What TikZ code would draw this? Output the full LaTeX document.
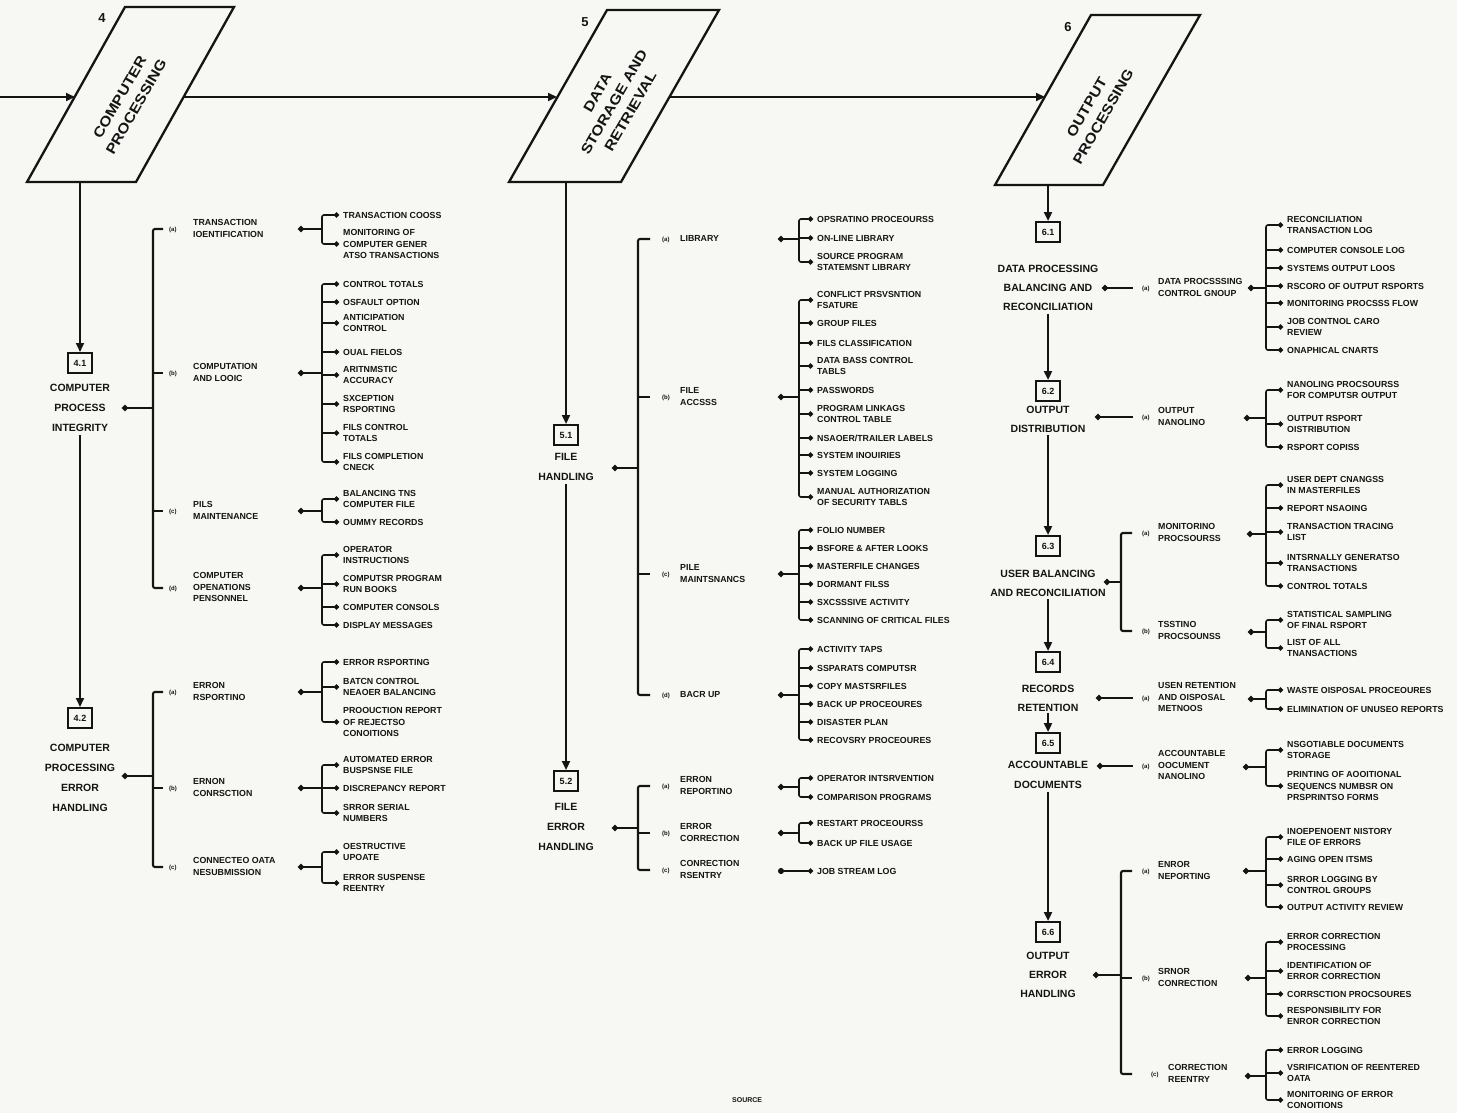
\documentclass[tikz,border=0pt]{standalone}
\usepackage{fontspec}
\setmainfont{Liberation Sans}
\usetikzlibrary{arrows.meta}
\definecolor{ink}{RGB}{20,20,20}
\definecolor{paper}{RGB}{247,247,243}
\newcommand\itmfont{\fontsize{8.8}{11.5}\selectfont\bfseries}
\newcommand\mainfnt{\fontsize{10.5}{20}\selectfont\bfseries}
\newcommand\boxfnt{\fontsize{14}{19}\selectfont\bfseries}
\newcommand\numfnt{\fontsize{9}{10}\selectfont\bfseries}
\newcommand\labtx[4]{\hspace*{#1}\makebox[#2][l]{\fontsize{6}{7}\selectfont #3}\begin{tabular}{@{}l@{}}#4\end{tabular}}
\newcommand\Itm[4]{\node[item] (#1) at (#2,#3) {#4};}
\newcommand\Tck[2]{\draw[tk,-{Circle[length=5pt]}] (#2.west -| #1) -- (#2.west);}
\newcommand\Sbr[3]{\draw[tk,rounded corners=2pt,{Circle[length=5pt]}-{Circle[length=5pt]}] (#2.west) -- (#2.west -| #1) -- (#3.west -| #1) -- (#3.west);}
\newcommand\Lbr[3]{\draw[ln,rounded corners=2pt] (#2.west) -- (#2.west -| #1) -- (#3.west -| #1) -- (#3.west);}
\newcommand\Ltk[2]{\draw[ln] (#2.west -| #1) -- (#2.west);}
\newcommand\Pdt[2]{\draw[ln,{Circle[length=6pt]}-] (#2) -- (#2 -| #1);}
\begin{document}
\begin{tikzpicture}[x=1pt,y=-1pt,
 ln/.style={draw=ink,line width=2.1pt},
 tk/.style={draw=ink,line width=1.6pt},
 arr/.style={draw=ink,line width=2.2pt,-{Triangle[length=9pt,width=8pt]}},
 item/.style={anchor=west,inner xsep=4pt,inner ysep=0pt,font=\itmfont,align=left,text=ink},
 lab/.style={anchor=west,inner sep=0pt,font=\itmfont,text=ink},
 mainn/.style={font=\mainfnt,align=center,inner sep=0pt,text=ink},
 numbox/.style={draw=ink,line width=2pt,font=\numfnt,minimum width=24pt,minimum height=20pt,inner sep=1pt,text=ink},
 boxtxt/.style={font=\boxfnt,align=center,rotate=60,xscale=1.15,transform shape,text=ink},
 numlbl/.style={font=\fontsize{13}{13}\selectfont\bfseries,text=ink},
 pgram/.style={draw=ink,line width=2.3pt}]
\fill[paper] (0,0) rectangle (1457,1113);
\useasboundingbox (0,0) rectangle (1457,1113);

% ---------- top row ----------
\draw[pgram] (125,7) -- (234,7) -- (136,182) -- (27,182) -- cycle;
\node[boxtxt] (bx4) at (128,102) {COMPUTER\\PROCESSING};
\node[numlbl] (nm4) at (102,18) {4};
\draw[pgram] (607,10) -- (719,10) -- (621,182) -- (509,182) -- cycle;
\node[boxtxt] (bx5) at (614,102) {DATA\\STORAGE AND\\RETRIEVAL};
\node[numlbl] (nm5) at (585,22) {5};
\draw[pgram] (1091,15) -- (1200,15) -- (1103,185) -- (995,185) -- cycle;
\node[boxtxt] (bx6) at (1095,112) {OUTPUT\\PROCESSING};
\node[numlbl] (nm6) at (1068,27) {6};
\coordinate (st) at (0,97);
\coordinate (p4l) at (75,97);
\coordinate (p4r) at (184,97);
\coordinate (p5l) at (557,97);
\coordinate (p5r) at (670,97);
\coordinate (p6l) at (1045,97);
\draw[arr] (st) -- (p4l);
\draw[arr] (p4r) -- (p5l);
\draw[arr] (p5r) -- (p6l);
\coordinate (p4s) at (80,182);
\coordinate (p5s) at (566,182);
\coordinate (p6s) at (1048,185);

% ---------- column 4 ----------
\coordinate (b1x) at (153,0); \coordinate (s1x) at (322,0);
\node[numbox] (n41) at (80,363) {4.1};
\node[mainn] (t41) at (80,408) {COMPUTER\\PROCESS\\INTEGRITY};
\draw[arr] (p4s) -- (n41.north);
\coordinate (m41) at (122,408);
\node[lab] (L1a) at (163,229) {\labtx{6pt}{24pt}{(a)}{TRANSACTION\\IOENTIFICATION}};
\node[lab] (L1b) at (163,373) {\labtx{6pt}{24pt}{(b)}{COMPUTATION\\AND LOOIC}};
\node[lab] (L1c) at (163,511) {\labtx{6pt}{24pt}{(c)}{PILS\\MAINTENANCE}};
\node[lab] (L1d) at (163,588) {\labtx{6pt}{24pt}{(d)}{COMPUTER\\OPENATIONS\\PENSONNEL}};
\Lbr{b1x}{L1a}{L1d} \Ltk{b1x}{L1b} \Ltk{b1x}{L1c}
\Pdt{b1x}{m41}
\coordinate (P1a) at (298,229); \coordinate (P1b) at (298,373);
\coordinate (P1c) at (298,511); \coordinate (P1d) at (298,588);
\Pdt{s1x}{P1a} \Pdt{s1x}{P1b} \Pdt{s1x}{P1c} \Pdt{s1x}{P1d}
\Itm{i1a1}{339}{215}{TRANSACTION COOSS}
\Itm{i1a2}{339}{244}{MONITORING OF\\COMPUTER GENER\\ATSO TRANSACTIONS}
\Sbr{s1x}{i1a1}{i1a2}
\Itm{i1b1}{339}{284}{CONTROL TOTALS}
\Itm{i1b2}{339}{302}{OSFAULT OPTION}
\Itm{i1b3}{339}{323}{ANTICIPATION\\CONTROL}
\Itm{i1b4}{339}{352}{OUAL FIELOS}
\Itm{i1b5}{339}{375}{ARITNMSTIC\\ACCURACY}
\Itm{i1b6}{339}{404}{SXCEPTION\\RSPORTING}
\Itm{i1b7}{339}{433}{FILS CONTROL\\TOTALS}
\Itm{i1b8}{339}{462}{FILS COMPLETION\\CNECK}
\Sbr{s1x}{i1b1}{i1b8}
\Tck{s1x}{i1b2} \Tck{s1x}{i1b3} \Tck{s1x}{i1b4} \Tck{s1x}{i1b5} \Tck{s1x}{i1b6} \Tck{s1x}{i1b7}
\Itm{i1c1}{339}{499}{BALANCING TNS\\COMPUTER FILE}
\Itm{i1c2}{339}{522}{OUMMY RECORDS}
\Sbr{s1x}{i1c1}{i1c2}
\Itm{i1d1}{339}{555}{OPERATOR\\INSTRUCTIONS}
\Itm{i1d2}{339}{584}{COMPUTSR PROGRAM\\RUN BOOKS}
\Itm{i1d3}{339}{607}{COMPUTER CONSOLS}
\Itm{i1d4}{339}{625}{DISPLAY MESSAGES}
\Sbr{s1x}{i1d1}{i1d4} \Tck{s1x}{i1d2} \Tck{s1x}{i1d3}

\node[numbox] (n42) at (80,718) {4.2};
\draw[arr,shorten <=3pt] (t41.south) -- (n42.north);
\node[mainn] (t42) at (80,778) {COMPUTER\\PROCESSING\\ERROR\\HANDLING};
\coordinate (m42) at (122,776);
\node[lab] (L2a) at (163,692) {\labtx{6pt}{24pt}{(a)}{ERRON\\RSPORTINO}};
\node[lab] (L2b) at (163,788) {\labtx{6pt}{24pt}{(b)}{ERNON\\CONRSCTION}};
\node[lab] (L2c) at (163,867) {\labtx{6pt}{24pt}{(c)}{CONNECTEO OATA\\NESUBMISSION}};
\Lbr{b1x}{L2a}{L2c} \Ltk{b1x}{L2b}
\Pdt{b1x}{m42}
\coordinate (P2a) at (298,692); \coordinate (P2b) at (298,788); \coordinate (P2c) at (298,867);
\Pdt{s1x}{P2a} \Pdt{s1x}{P2b} \Pdt{s1x}{P2c}
\Itm{i2a1}{339}{662}{ERROR RSPORTING}
\Itm{i2a2}{339}{687}{BATCN CONTROL\\NEAOER BALANCING}
\Itm{i2a3}{339}{722}{PROOUCTION REPORT\\OF REJECTSO\\CONOITIONS}
\Sbr{s1x}{i2a1}{i2a3} \Tck{s1x}{i2a2}
\Itm{i2b1}{339}{765}{AUTOMATED ERROR\\BUSPSNSE FILE}
\Itm{i2b2}{339}{788}{DISCREPANCY REPORT}
\Itm{i2b3}{339}{813}{SRROR SERIAL\\NUMBERS}
\Sbr{s1x}{i2b1}{i2b3} \Tck{s1x}{i2b2}
\Itm{i2c1}{339}{852}{OESTRUCTIVE\\UPOATE}
\Itm{i2c2}{339}{883}{ERROR SUSPENSE\\REENTRY}
\Sbr{s1x}{i2c1}{i2c2}

% ---------- column 5 ----------
\coordinate (b5x) at (638,0); \coordinate (s5x) at (799,0);
\node[numbox] (n51) at (566,435) {5.1};
\draw[arr] (p5s) -- (n51.north);
\node[mainn] (t51) at (566,467) {FILE\\HANDLING};
\coordinate (m51) at (612,468);
\node[lab] (L5a) at (650,239) {\labtx{12pt}{18pt}{(a)}{LIBRARY}};
\node[lab] (L5b) at (650,397) {\labtx{12pt}{18pt}{(b)}{FILE\\ACCSSS}};
\node[lab] (L5c) at (650,574) {\labtx{12pt}{18pt}{(c)}{PILE\\MAINTSNANCS}};
\node[lab] (L5d) at (650,695) {\labtx{12pt}{18pt}{(d)}{BACR UP}};
\Lbr{b5x}{L5a}{L5d} \Ltk{b5x}{L5b} \Ltk{b5x}{L5c}
\Pdt{b5x}{m51}
\coordinate (P5a) at (778,239); \coordinate (P5b) at (778,397);
\coordinate (P5c) at (778,574); \coordinate (P5d) at (778,695);
\Pdt{s5x}{P5a} \Pdt{s5x}{P5b} \Pdt{s5x}{P5c} \Pdt{s5x}{P5d}
\Itm{i5a1}{813}{219}{OPSRATINO PROCEOURSS}
\Itm{i5a2}{813}{238}{ON-LINE LIBRARY}
\Itm{i5a3}{813}{262}{SOURCE PROGRAM\\STATEMSNT LIBRARY}
\Sbr{s5x}{i5a1}{i5a3} \Tck{s5x}{i5a2}
\Itm{i5b1}{813}{300}{CONFLICT PRSVSNTION\\FSATURE}
\Itm{i5b2}{813}{323}{GROUP FILES}
\Itm{i5b3}{813}{343}{FILS CLASSIFICATION}
\Itm{i5b4}{813}{366}{DATA BASS CONTROL\\TABLS}
\Itm{i5b5}{813}{390}{PASSWORDS}
\Itm{i5b6}{813}{414}{PROGRAM LINKAGS\\CONTROL TABLE}
\Itm{i5b7}{813}{438}{NSAOER/TRAILER LABELS}
\Itm{i5b8}{813}{455}{SYSTEM INOUIRIES}
\Itm{i5b9}{813}{473}{SYSTEM LOGGING}
\Itm{i5b10}{813}{497}{MANUAL AUTHORIZATION\\OF SECURITY TABLS}
\Sbr{s5x}{i5b1}{i5b10}
\Tck{s5x}{i5b2} \Tck{s5x}{i5b3} \Tck{s5x}{i5b4} \Tck{s5x}{i5b5}
\Tck{s5x}{i5b6} \Tck{s5x}{i5b7} \Tck{s5x}{i5b8} \Tck{s5x}{i5b9}
\Itm{i5c1}{813}{530}{FOLIO NUMBER}
\Itm{i5c2}{813}{548}{BSFORE \& AFTER LOOKS}
\Itm{i5c3}{813}{566}{MASTERFILE CHANGES}
\Itm{i5c4}{813}{584}{DORMANT FILSS}
\Itm{i5c5}{813}{602}{SXCSSSIVE ACTIVITY}
\Itm{i5c6}{813}{620}{SCANNING OF CRITICAL FILES}
\Sbr{s5x}{i5c1}{i5c6}
\Tck{s5x}{i5c2} \Tck{s5x}{i5c3} \Tck{s5x}{i5c4} \Tck{s5x}{i5c5}
\Itm{i5d1}{813}{649}{ACTIVITY TAPS}
\Itm{i5d2}{813}{668}{SSPARATS COMPUTSR}
\Itm{i5d3}{813}{686}{COPY MASTSRFILES}
\Itm{i5d4}{813}{704}{BACK UP PROCEOURES}
\Itm{i5d5}{813}{722}{DISASTER PLAN}
\Itm{i5d6}{813}{740}{RECOVSRY PROCEOURES}
\Sbr{s5x}{i5d1}{i5d6}
\Tck{s5x}{i5d2} \Tck{s5x}{i5d3} \Tck{s5x}{i5d4} \Tck{s5x}{i5d5}

\node[numbox] (n52) at (566,781) {5.2};
\draw[arr,shorten <=3pt] (t51.south) -- (n52.north);
\node[mainn] (t52) at (566,827) {FILE\\ERROR\\HANDLING};
\coordinate (m52) at (612,828);
\node[lab] (L52a) at (650,786) {\labtx{12pt}{18pt}{(a)}{ERRON\\REPORTINO}};
\node[lab] (L52b) at (650,833) {\labtx{12pt}{18pt}{(b)}{ERROR\\CORRECTION}};
\node[lab] (L52c) at (650,870) {\labtx{12pt}{18pt}{(c)}{CONRECTION\\RSENTRY}};
\Lbr{b5x}{L52a}{L52c} \Ltk{b5x}{L52b}
\Pdt{b5x}{m52}
\coordinate (P52a) at (778,787); \coordinate (P52b) at (778,833);
\Pdt{s5x}{P52a} \Pdt{s5x}{P52b}
\Itm{i52a1}{813}{778}{OPERATOR INTSRVENTION}
\Itm{i52a2}{813}{797}{COMPARISON PROGRAMS}
\Sbr{s5x}{i52a1}{i52a2}
\Itm{i52b1}{813}{823}{RESTART PROCEOURSS}
\Itm{i52b2}{813}{843}{BACK UP FILE USAGE}
\Sbr{s5x}{i52b1}{i52b2}
\Itm{i52c1}{813}{871}{JOB STREAM LOG}
\coordinate (P52c) at (778,871);
\draw[tk,{Circle[length=6pt]}-{Circle[length=5pt]}] (P52c) -- (i52c1.west);

% ---------- column 6 ----------
\coordinate (b6x) at (1121,0); \coordinate (s6x) at (1266,0);
\node[numbox] (n61) at (1048,232) {6.1};
\draw[arr] (p6s) -- (n61.north);
\node[mainn,font=\fontsize{10.5}{19}\selectfont\bfseries] (t61) at (1048,288) {DATA PROCESSING\\BALANCING AND\\RECONCILIATION};
\coordinate (m61) at (1102,288);
\node[lab] (L61a) at (1133,288) {\labtx{9pt}{16pt}{(a)}{DATA PROCSSSING\\CONTROL GNOUP}};
\draw[ln,{Circle[length=6pt]}-] (m61) -- (L61a.west);
\coordinate (P61a) at (1248,288);
\Pdt{s6x}{P61a}
\Itm{i61a1}{1283}{225}{RECONCILIATION\\TRANSACTION LOG}
\Itm{i61a2}{1283}{250}{COMPUTER CONSOLE LOG}
\Itm{i61a3}{1283}{268}{SYSTEMS OUTPUT LOOS}
\Itm{i61a4}{1283}{286}{RSCORO OF OUTPUT RSPORTS}
\Itm{i61a5}{1283}{303}{MONITORING PROCSSS FLOW}
\Itm{i61a6}{1283}{327}{JOB CONTNOL CARO\\REVIEW}
\Itm{i61a7}{1283}{350}{ONAPHICAL CNARTS}
\Sbr{s6x}{i61a1}{i61a7}
\Tck{s6x}{i61a2} \Tck{s6x}{i61a3} \Tck{s6x}{i61a4} \Tck{s6x}{i61a5} \Tck{s6x}{i61a6}

\node[numbox] (n62) at (1048,391) {6.2};
\draw[arr,shorten <=3pt] (t61.south) -- (n62.north);
\node[mainn,font=\fontsize{10.5}{19}\selectfont\bfseries] (t62) at (1048,419) {OUTPUT\\DISTRIBUTION};
\coordinate (m62) at (1095,417);
\node[lab] (L62a) at (1133,417) {\labtx{9pt}{16pt}{(a)}{OUTPUT\\NANOLINO}};
\draw[ln,{Circle[length=6pt]}-] (m62) -- (L62a.west);
\coordinate (P62a) at (1244,418);
\Pdt{s6x}{P62a}
\Itm{i62a1}{1283}{390}{NANOLING PROCSOURSS\\FOR COMPUTSR OUTPUT}
\Itm{i62a2}{1283}{424}{OUTPUT RSPORT\\OISTRIBUTION}
\Itm{i62a3}{1283}{447}{RSPORT COPISS}
\Sbr{s6x}{i62a1}{i62a3} \Tck{s6x}{i62a2}

\node[numbox] (n63) at (1048,546) {6.3};
\draw[arr,shorten <=3pt] (t62.south) -- (n63.north);
\node[mainn,font=\fontsize{10.5}{19}\selectfont\bfseries] (t63) at (1048,583) {USER BALANCING\\AND RECONCILIATION};
\coordinate (m63) at (1104,582);
\node[lab] (L63a) at (1132,533) {\labtx{10pt}{16pt}{(a)}{MONITORINO\\PROCSOURSS}};
\node[lab] (L63b) at (1132,631) {\labtx{10pt}{16pt}{(b)}{TSSTINO\\PROCSOUNSS}};
\Lbr{b6x}{L63a}{L63b}
\Pdt{b6x}{m63}
\coordinate (P63a) at (1247,534); \coordinate (P63b) at (1248,632);
\Pdt{s6x}{P63a} \Pdt{s6x}{P63b}
\Itm{i63a1}{1283}{485}{USER DEPT CNANGSS\\IN MASTERFILES}
\Itm{i63a2}{1283}{508}{REPORT NSAOING}
\Itm{i63a3}{1283}{532}{TRANSACTION TRACING\\LIST}
\Itm{i63a4}{1283}{563}{INTSRNALLY GENERATSO\\TRANSACTIONS}
\Itm{i63a5}{1283}{586}{CONTROL TOTALS}
\Sbr{s6x}{i63a1}{i63a5} \Tck{s6x}{i63a2} \Tck{s6x}{i63a3} \Tck{s6x}{i63a4}
\Itm{i63b1}{1283}{620}{STATISTICAL SAMPLING\\OF FINAL RSPORT}
\Itm{i63b2}{1283}{648}{LIST OF ALL\\TNANSACTIONS}
\Sbr{s6x}{i63b1}{i63b2}

\node[numbox] (n64) at (1048,662) {6.4};
\draw[arr,shorten <=3pt] (t63.south) -- (n64.north);
\node[mainn,font=\fontsize{10.5}{19}\selectfont\bfseries] (t64) at (1048,698) {RECORDS\\RETENTION};
\coordinate (m64) at (1096,698);
\node[lab] (L64a) at (1133,698) {\labtx{9pt}{16pt}{(a)}{USEN RETENTION\\AND OISPOSAL\\METNOOS}};
\draw[ln,{Circle[length=6pt]}-] (m64) -- (L64a.west);
\coordinate (P64a) at (1248,699);
\Pdt{s6x}{P64a}
\Itm{i64a1}{1283}{690}{WASTE OISPOSAL PROCEOURES}
\Itm{i64a2}{1283}{709}{ELIMINATION OF UNUSEO REPORTS}
\Sbr{s6x}{i64a1}{i64a2}

\node[numbox] (n65) at (1048,743) {6.5};
\draw[arr,shorten <=2pt] (t64.south) -- (n65.north);
\node[mainn,font=\fontsize{10.5}{20}\selectfont\bfseries] (t65) at (1048,775) {ACCOUNTABLE\\DOCUMENTS};
\coordinate (m65) at (1097,766);
\node[lab] (L65a) at (1133,766) {\labtx{9pt}{16pt}{(a)}{ACCOUNTABLE\\OOCUMENT\\NANOLINO}};
\draw[ln,{Circle[length=6pt]}-] (m65) -- (L65a.west);
\coordinate (P65a) at (1243,767);
\Pdt{s6x}{P65a}
\Itm{i65a1}{1283}{750}{NSGOTIABLE DOCUMENTS\\STORAGE}
\Itm{i65a2}{1283}{786}{PRINTING OF AOOITIONAL\\SEQUENCS NUMBSR ON\\PRSPRINTSO FORMS}
\Sbr{s6x}{i65a1}{i65a2}

\node[numbox] (n66) at (1048,932) {6.6};
\draw[arr,shorten <=3pt] (t65.south) -- (n66.north);
\node[mainn,font=\fontsize{10.5}{19}\selectfont\bfseries] (t66) at (1048,975) {OUTPUT\\ERROR\\HANDLING};
\coordinate (m66) at (1093,975);
\node[lab] (L66a) at (1132,871) {\labtx{10pt}{16pt}{(a)}{ENROR\\NEPORTING}};
\node[lab] (L66b) at (1132,978) {\labtx{10pt}{16pt}{(b)}{SRNOR\\CONRECTION}};
\node[lab] (L66c) at (1132,1074) {\labtx{19pt}{17pt}{(c)}{CORRECTION\\REENTRY}};
\Lbr{b6x}{L66a}{L66c} \Ltk{b6x}{L66b}
\Pdt{b6x}{m66}
\coordinate (P66a) at (1243,871); \coordinate (P66b) at (1245,978); \coordinate (P66c) at (1245,1076);
\Pdt{s6x}{P66a} \Pdt{s6x}{P66b} \Pdt{s6x}{P66c}
\Itm{i66a1}{1283}{837}{INOEPENOENT NISTORY\\FILE OF ERRORS}
\Itm{i66a2}{1283}{859}{AGING OPEN ITSMS}
\Itm{i66a3}{1283}{885}{SRROR LOGGING BY\\CONTROL GROUPS}
\Itm{i66a4}{1283}{907}{OUTPUT ACTIVITY REVIEW}
\Sbr{s6x}{i66a1}{i66a4} \Tck{s6x}{i66a2} \Tck{s6x}{i66a3}
\Itm{i66b1}{1283}{942}{ERROR CORRECTION\\PROCESSING}
\Itm{i66b2}{1283}{971}{IDENTIFICATION OF\\ERROR CORRECTION}
\Itm{i66b3}{1283}{994}{CORRSCTION PROCSOURES}
\Itm{i66b4}{1283}{1016}{RESPONSIBILITY FOR\\ENROR CORRECTION}
\Sbr{s6x}{i66b1}{i66b4} \Tck{s6x}{i66b2} \Tck{s6x}{i66b3}
\Itm{i66c1}{1283}{1050}{ERROR LOGGING}
\Itm{i66c2}{1283}{1073}{VSRIFICATION OF REENTERED\\OATA}
\Itm{i66c3}{1283}{1100}{MONITORING OF ERROR\\CONOITIONS}
\Sbr{s6x}{i66c1}{i66c3} \Tck{s6x}{i66c2}

\node[anchor=west,inner sep=0pt,font=\fontsize{7}{8}\selectfont\bfseries,text=ink] (src) at (732,1100) {SOURCE};
\end{tikzpicture}
\end{document}
